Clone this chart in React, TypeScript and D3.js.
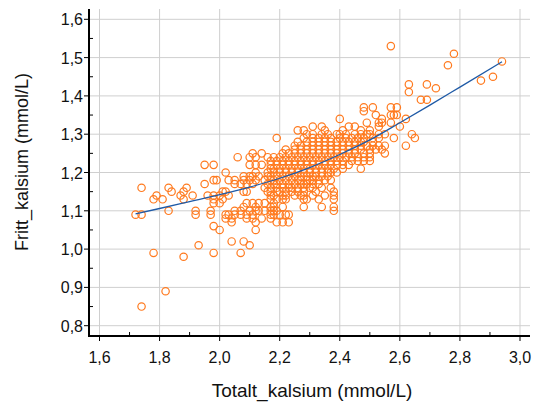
import React from "react";
import * as d3 from "d3";

// Fritt_kalsium levels (mmol/L), one row per level
const freeCalcium = [
  1.53, 1.51, 1.49, 1.48, 1.45, 1.44, 1.43, 1.42, 1.41, 1.39, 1.37, 1.36, 1.35, 1.34, 1.33, 1.32, 1.31,
  1.3, 1.29, 1.28, 1.27, 1.26, 1.25, 1.24, 1.23, 1.22, 1.21, 1.2, 1.19, 1.18, 1.17, 1.16, 1.15, 1.14,
  1.13, 1.12, 1.11, 1.1, 1.09, 1.08, 1.07, 1.06, 1.05, 1.02, 1.01, 0.99, 0.98, 0.89, 0.85,
];
// Totalt_kalsium values (in 0.01 mmol/L) observed at each free-calcium level above
const totalCalciumByRow: number[][] = [
  [257], [278], [294], [276], [291], [287], [263, 269], [272], [263], [267, 269],
  [248, 251, 257, 259], [248], [252, 257, 258, 259], [240, 254, 262], [249, 253, 254, 257],
  [231, 234, 243, 245, 253, 260], [226, 228, 235, 241, 247, 250],
  [229, 231, 234, 236, 239, 240, 242, 245, 247, 249, 250, 253, 255, 264],
  [219, 228, 231, 233, 235, 237, 240, 242, 244, 246, 248, 251, 253, 258, 265],
  [226, 229, 231, 233, 235, 237, 239, 241, 243, 245, 247, 248, 251],
  [225, 227, 229, 231, 233, 235, 237, 239, 241, 243, 245, 247, 249, 251, 253, 255, 262],
  [222, 225, 227, 229, 231, 233, 235, 237, 239, 241, 243, 245, 247, 250, 252, 254],
  [211, 214, 221, 223, 225, 227, 229, 231, 233, 235, 237, 239, 241, 243, 245, 248, 250, 255],
  [206, 210, 212, 216, 218, 220, 222, 224, 226, 228, 230, 232, 234, 236, 238, 240, 242, 244, 246, 248, 250],
  [217, 219, 221, 223, 225, 227, 229, 231, 233, 235, 237, 239, 241, 244, 246, 248, 250],
  [195, 198, 210, 212, 214, 217, 219, 221, 223, 225, 227, 229, 231, 233, 235, 237, 239, 241, 243],
  [217, 218, 220, 222, 224, 226, 228, 230, 232, 234, 236, 238, 241, 247],
  [202, 212, 216, 218, 220, 222, 224, 226, 228, 230, 232, 234, 236, 237, 239],
  [208, 210, 211, 213, 216, 217, 219, 221, 223, 225, 227, 229, 231, 232, 234, 236],
  [198, 199, 203, 205, 208, 210, 212, 215, 217, 218, 220, 222, 224, 226, 227, 229, 230, 231, 233, 235, 237],
  [195, 205, 207, 209, 211, 216, 218, 219, 221, 223, 225, 227, 228, 229, 231, 233],
  [174, 183, 189, 215, 217, 219, 221, 223, 224, 226, 228, 230, 231, 234, 237],
  [184, 188, 201, 202, 208, 209, 216, 217, 219, 220, 222, 224, 226, 228, 232, 238],
  [179, 187, 191, 196, 198, 200, 203, 217, 218, 221, 222, 225, 227, 228, 231, 235, 238],
  [178, 181, 188, 198, 201, 217, 219, 221, 222, 228, 229, 233, 238],
  [198, 200, 209, 211, 213, 215, 218],
  [208, 212, 217, 218, 221, 228, 234, 238],
  [183, 192, 197, 205, 207, 210, 212, 213, 215, 217, 218, 219, 238],
  [172, 174, 192, 197, 202, 203, 205, 207, 209, 211, 217, 218, 220, 222, 223],
  [202, 204, 209, 211, 214, 217],
  [204, 212, 219, 221, 223],
  [198],
  [200, 212],
  [204, 208],
  [193, 210],
  [178, 198, 207],
  [188],
  [182],
  [174],
];

// Fitted curve
const fitX = [1.72, 1.8, 1.9, 2.0, 2.1, 2.2, 2.3, 2.4, 2.5, 2.6, 2.7, 2.8, 2.94];
const fitY = [1.092, 1.106, 1.124, 1.142, 1.162, 1.185, 1.213, 1.247, 1.285, 1.33, 1.376, 1.423, 1.489];

const xTicks = [1.6, 1.8, 2.0, 2.2, 2.4, 2.6, 2.8, 3.0];
const xMinor = [1.7, 1.9, 2.1, 2.3, 2.5, 2.7, 2.9];
const yTicks = [0.8, 0.9, 1.0, 1.1, 1.2, 1.3, 1.4, 1.5, 1.6];
const yMinor = [0.85, 0.95, 1.05, 1.15, 1.25, 1.35, 1.45, 1.55];

const W = 536;
const H = 405;
const frame = { left: 89, right: 530, top: 9, bottom: 336 };

export default function App() {
  const x = d3.scaleLinear().domain([1.6, 3.0]).range([99.5, 520]);
  const y = d3.scaleLinear().domain([0.8, 1.6]).range([325.7, 19.3]);
  const fmt = (v: number) => v.toFixed(1).replace(".", ",");

  const points = freeCalcium.flatMap((fy, i) =>
    totalCalciumByRow[i].map((h) => ({ x: h / 100, y: fy }))
  );
  const fit = fitX.map((v, i) => [v, fitY[i]] as [number, number]);
  const line = d3
    .line<[number, number]>()
    .x((d) => x(d[0]))
    .y((d) => y(d[1]))
    .curve(d3.curveMonotoneX);

  const font = "'Liberation Sans', Arial, sans-serif";
  const orange = "#ff7a1f";

  return (
    <svg
      width={W}
      height={H}
      style={{ position: "absolute", left: 0, top: 0, background: "#fff" }}
      fontFamily={font}
    >
      {/* grid */}
      <g stroke="#cfcfcf" strokeWidth={1}>
        {xTicks.map((t) => (
          <line key={"gx" + t} x1={x(t)} x2={x(t)} y1={frame.top} y2={frame.bottom} />
        ))}
        {yTicks.map((t) => (
          <line key={"gy" + t} x1={frame.left} x2={frame.right} y1={y(t)} y2={y(t)} />
        ))}
      </g>

      {/* points */}
      <g fill="none" stroke={orange} strokeWidth={1.2}>
        {points.map((p, i) => (
          <circle key={i} cx={x(p.x)} cy={y(p.y)} r={3.7} />
        ))}
      </g>

      {/* fitted line */}
      <path d={line(fit) || ""} fill="none" stroke="#1f5aa6" strokeWidth={1.3} />

      {/* axes */}
      <g stroke="#000">
        <line x1={frame.left} x2={frame.left} y1={frame.top} y2={frame.bottom + 1} strokeWidth={2} />
        <line x1={frame.left - 1} x2={frame.right} y1={frame.bottom} y2={frame.bottom} strokeWidth={2} />
        {xTicks.map((t) => (
          <line key={"tx" + t} x1={x(t)} x2={x(t)} y1={frame.bottom} y2={frame.bottom + 5} strokeWidth={1} />
        ))}
        {xMinor.map((t) => (
          <line key={"mx" + t} x1={x(t)} x2={x(t)} y1={frame.bottom} y2={frame.bottom - 4} strokeWidth={1} />
        ))}
        {yTicks.map((t) => (
          <line key={"ty" + t} x1={frame.left - 5} x2={frame.left} y1={y(t)} y2={y(t)} strokeWidth={1} />
        ))}
        {yMinor.map((t) => (
          <line key={"my" + t} x1={frame.left} x2={frame.left + 4} y1={y(t)} y2={y(t)} strokeWidth={1} />
        ))}
      </g>

      {/* tick labels */}
      <g fontSize={16} fill="#111">
        {xTicks.map((t) => (
          <text key={"lx" + t} x={x(t)} y={363} textAnchor="middle">
            {fmt(t)}
          </text>
        ))}
        {yTicks.map((t) => (
          <text key={"ly" + t} x={83} y={y(t) + 6} textAnchor="end">
            {fmt(t)}
          </text>
        ))}
      </g>

      {/* axis titles */}
      <text x={312} y={397} textAnchor="middle" fontSize={19} fill="#111">
        Totalt_kalsium (mmol/L)
      </text>
      <text
        transform={`translate(28,162) rotate(-90)`}
        textAnchor="middle"
        fontSize={18}
        fill="#111"
      >
        Fritt_kalsium (mmol/L)
      </text>
    </svg>
  );
}
